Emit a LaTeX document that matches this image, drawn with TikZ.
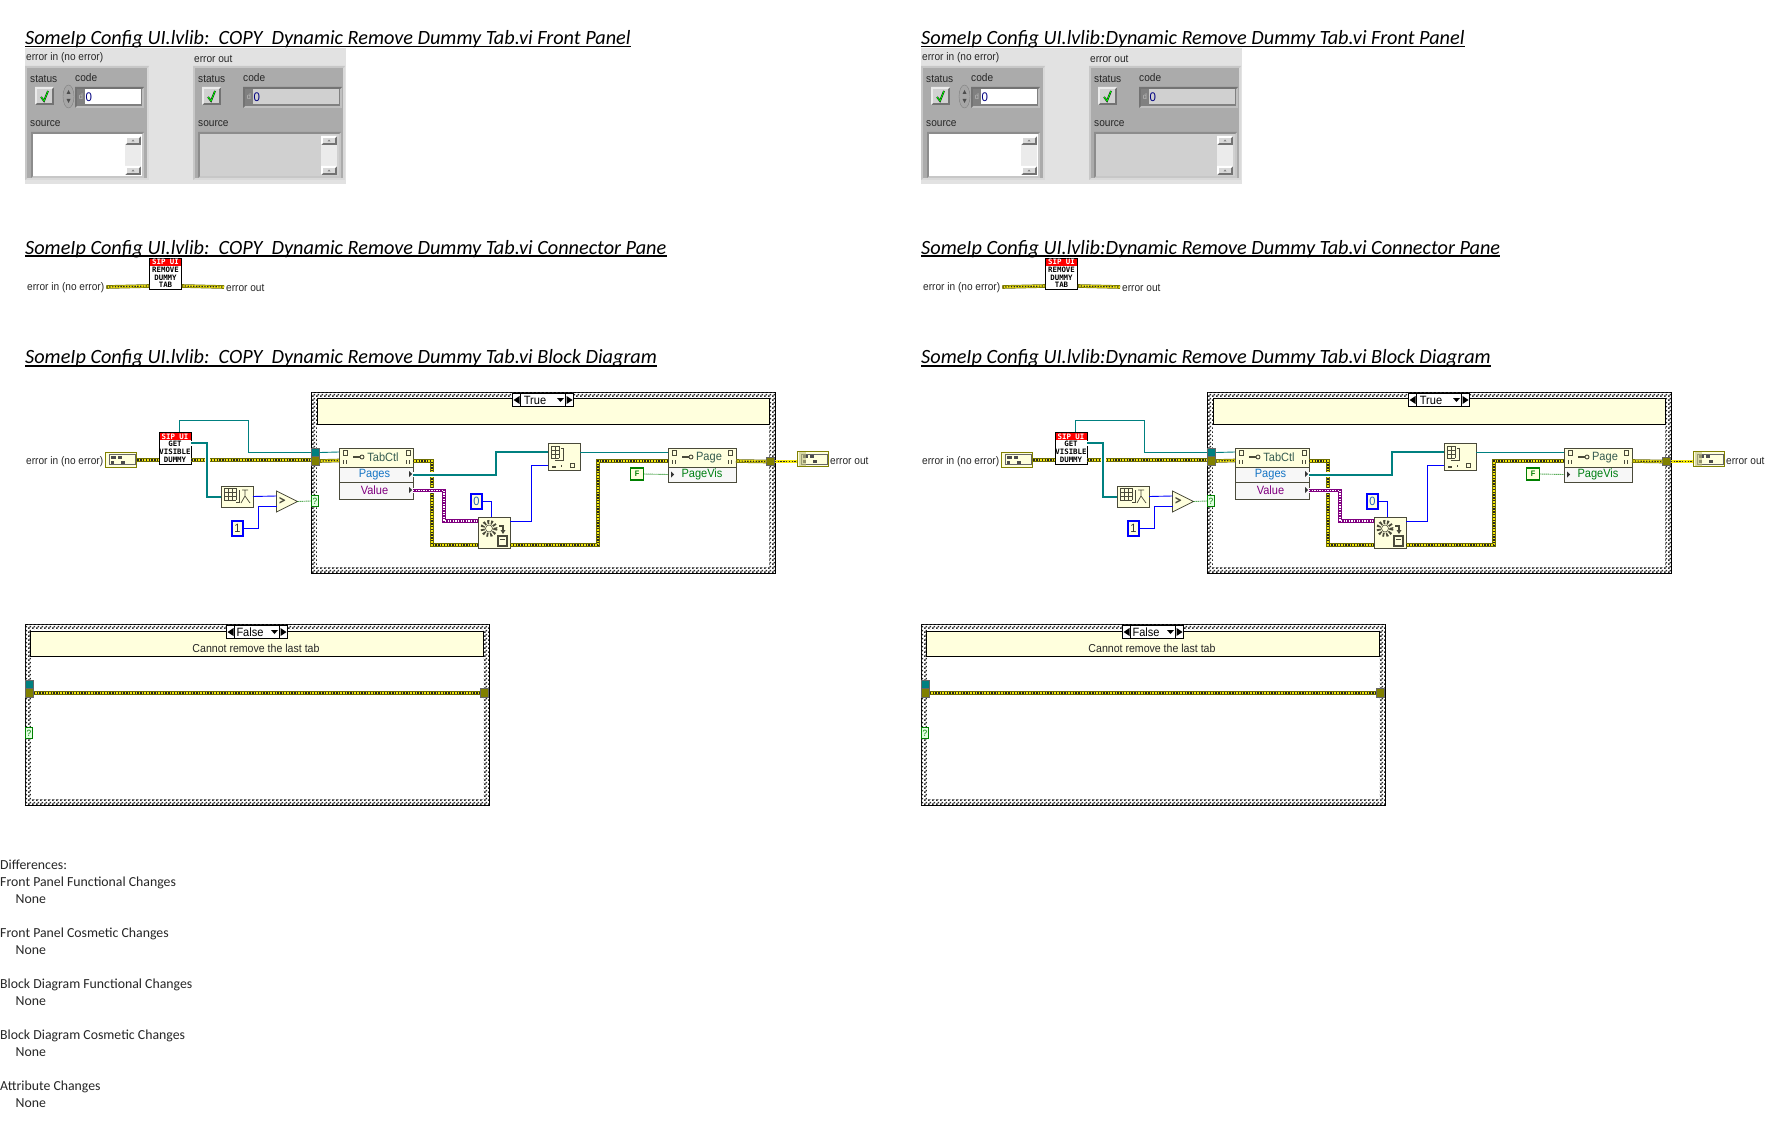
\documentclass[tikz,border=0pt]{standalone}
\usepackage{fontspec}
\usetikzlibrary{positioning,patterns,shapes.geometric}
\setmainfont{Carlito}
\newfontfamily\lvfont[FakeStretch=0.92]{Liberation Sans}
\newfontfamily\lvmono{DejaVu Sans Mono}
\definecolor{lvteal}{HTML}{008080}
\definecolor{lvblue}{HTML}{0000FF}
\definecolor{lvpurple}{HTML}{800080}
\definecolor{lvgreen}{HTML}{008000}
\definecolor{lvolive}{HTML}{808000}
\definecolor{lvedge}{HTML}{4A4A3A}
\definecolor{lvpale}{HTML}{FFFFDD}
\definecolor{lvpanel}{HTML}{E2E2E2}
\definecolor{lvcluster}{HTML}{ABABAB}
\definecolor{lvfield}{HTML}{D0D0D0}
\pgfdeclarepatternformonly{finechecks}{\pgfqpoint{0pt}{0pt}}{\pgfqpoint{4pt}{4pt}}{\pgfqpoint{4pt}{4pt}}
{
    \pgfpathrectangle{\pgfqpoint{0pt}{0pt}}{\pgfqpoint{2pt}{2pt}}
    \pgfpathrectangle{\pgfqpoint{2pt}{2pt}}{\pgfqpoint{2pt}{2pt}}
    \pgfusepath{fill}
}
\tikzset{
    lvlabel/.style={font=\lvfont\fontsize{11}{12}\selectfont, inner sep=0pt, text=black!85},
    vititle/.style={font=\itshape\fontsize{20.25}{24}\selectfont, inner sep=0pt, anchor=base west},
    difftext/.style={font=\fontsize{13.8}{16}\selectfont, inner sep=0pt, anchor=west, text=black!85},
    sipicon/.style={draw=black, fill=white, line width=0.8pt, minimum width=32pt, minimum height=#1, inner sep=0pt, align=center,
        font=\lvmono\bfseries\fontsize{7.4}{7.6}\selectfont,
        path picture={\fill[red] (path picture bounding box.north west) rectangle ([yshift=-8pt]path picture bounding box.north east);}},
    lvnode/.style={draw=lvedge, fill=lvpale, line width=0.8pt, inner sep=0pt, outer sep=0pt},
    proprow/.style={draw=lvedge, fill=black!3, line width=0.8pt, inner sep=0pt, outer sep=0pt,
        font=\lvfont\fontsize{12}{13}\selectfont, minimum height=#1},
    constbox/.style={draw=#1, fill=lvpale, line width=1.9pt, inner sep=0pt, outer sep=0pt, text=black!80, font=\lvfont\fontsize{12}{13}\selectfont},
    tunnel/.style={draw=black!60, fill=#1, line width=0.6pt, inner sep=0pt, outer sep=0pt, minimum width=8.5pt, minimum height=8.5pt},
    seltunnel/.style={draw=lvgreen, fill=green!12, line width=0.7pt, inner sep=0pt, outer sep=0pt, minimum width=7.5pt, minimum height=11.5pt,
        font=\lvfont\fontsize{9}{10}\selectfont, text=lvgreen},
    casewall/.style={draw=black, line width=0.9pt, fill=white, postaction={pattern=finechecks, pattern color=black!85}, inner sep=0pt},
    caseinside/.style={fill=white, inner sep=0pt},
    casehead/.style={draw=black, fill=lvpale, line width=0.8pt, inner sep=0pt, lvlabel},
    selbox/.style={draw=black, fill=white, line width=0.7pt, inner sep=0pt, outer sep=0pt, minimum height=13.5pt,
        font=\lvfont\fontsize{12}{13}\selectfont},
    errterm/.style={draw=lvolive, fill=lvpale, line width=1.8pt, inner sep=0pt, minimum width=31pt, minimum height=15pt},
    errwire/.style={draw=lvolive!85!black, line width=3.6pt, postaction={draw=yellow!95!black, line width=2.2pt}, postaction={draw=black!85, line width=1.2pt, dash pattern=on 1.4pt off 1.4pt}},
    pinkwire/.style={preaction={draw=white, line width=5pt}, draw=lvpurple, line width=3.4pt, postaction={draw=white, line width=1.3pt, dash pattern=on 1.3pt off 1.3pt}},
    thickteal/.style={preaction={draw=white, line width=5pt}, draw=lvteal, line width=2pt},
    thinteal/.style={draw=lvteal, line width=0.9pt},
    bluewire/.style={draw=lvblue, line width=0.9pt},
    boolwire/.style={draw=lvgreen, line width=0.9pt, dash pattern=on 1pt off 1pt}
}
% x1 y1 x2 y2 top-left bottom-right
\newcommand{\bevelrect}[7]{
    \fill[#6] (#1,#2) rectangle (#3,#4);
    \fill[#5] (#1,#2) -- (#3,#2) -- (#3-2,#2+2) -- (#1+2,#2+2) -- (#1+2,#4-2) -- (#1,#4) -- cycle;
    \fill[#7] (#1+2,#2+2) rectangle (#3-2,#4-2);
}
\newcommand{\okbutton}[2]{
    \bevelrect{#1}{#2}{#1+19}{#2+18}{black!8}{black!55}{black!18}
    \draw[black, line width=1.7pt] (#1+6,#2+10) -- (#1+9,#2+14) -- (#1+13,#2+4);
    \draw[green, line width=0.9pt] (#1+6,#2+10) -- (#1+9,#2+14) -- (#1+13,#2+4);
}
\newcommand{\scrollbar}[2]{
    \fill[black!8] (#1,#2) rectangle (#1+16,#2+39);
    \foreach \by in {0,30}
    {
        \bevelrect{#1}{#2+\by}{#1+16}{#2+\by+9}{white}{black!55}{black!15}
        \fill[black!50] (#1+6.5,#2+\by+5.5) -- (#1+9.5,#2+\by+5.5) -- (#1+8,#2+\by+3.5) -- cycle;
    }
}
\newcommand{\gridglyph}[4]{
    \foreach \gx in {0,...,#3}
    {
        \draw[lvedge, line width=0.7pt] (#1+\gx*4,#2) -- (#1+\gx*4,#2+#4*4);
    }
    \foreach \gy in {0,...,#4}
    {
        \draw[lvedge, line width=0.7pt] (#1,#2+\gy*4) -- (#1+#3*4,#2+\gy*4);
    }
}
\newcommand{\tagglyph}[2]{
    \draw[lvedge, line width=0.7pt] (#1-2,#2-3) rectangle (#1+2,#2+2);
    \fill[lvedge] (#1-2.5,#2+7) rectangle (#1-1.3,#2+11);
    \fill[lvedge] (#1+0.5,#2+7) rectangle (#1+1.7,#2+11);
}
\newcommand{\keyglyph}[2]{
    \draw[lvedge, line width=1.8pt] (#1,#2) -- (#1+7,#2);
    \draw[lvedge, line width=0.9pt] (#1+9,#2) circle (2);
}
\newcommand{\errglyph}[3]{
    \fill[black!70] (#1+5,#2+3) rectangle (#1+10,#2+6);
    \fill[black!70] (#1+12,#2+3) rectangle (#1+16,#2+6);
    \fill[black!70] (#1+5,#2+8) rectangle (#1+8,#2+11);
    \fill[black!70] (#1+15,#2+8) rectangle (#1+19,#2+11);
    \draw[black!60] (#1+3.5,#2+2) rectangle (#1+#3,#2+12);
}
\begin{document}
\begin{tikzpicture}[x=1pt,y=-1pt]
    \useasboundingbox (0,0) rectangle (1792,1145);
    \fill[white] (0,0) rectangle (1792,1145);
    \foreach \cx/\viname in {0/{SomeIp Config UI.lvlib:\ \ COPY\ \ Dynamic Remove Dummy Tab.vi}, 896/{SomeIp Config UI.lvlib:Dynamic Remove Dummy Tab.vi}}
    {
        \begin{scope}[shift={(\cx,0)}, name prefix=col\cx-]
            \foreach \hid/\htext/\hy in {fp/Front Panel/44.5, cp/Connector Pane/254, bd/Block Diagram/363.5}
            {
                \node [vititle] (head\hid) at (25,\hy) {\viname\ \htext};
                \draw [line width=1.6pt] ([yshift=-2.2pt]head\hid.base west) -- ([yshift=-2.2pt]head\hid.base east);
            }
            % front panel
            \fill[lvpanel] (25,48) rectangle (346,184);
            \node [lvlabel, anchor=west] (inlabel) at (26,58) {error in (no error)};
            \node [lvlabel, anchor=west] (outlabel) at (194,58.5) {error out};
            \bevelrect{25}{66}{149}{180}{black!22}{black!15}{lvcluster}
            \bevelrect{193}{66}{345}{180}{black!22}{black!15}{lvcluster}
            \foreach \px/\pfx in {30/a,198/b}
            {
                \node [lvlabel, anchor=west] (status\pfx) at (\px,79) {status};
                \node [lvlabel, anchor=west] (source\pfx) at (\px,123.5) {source};
            }
            \node [lvlabel, anchor=west] (codea) at (75,78) {code};
            \node [lvlabel, anchor=west] (codeb) at (243,78) {code};
            \okbutton{35}{87}
            \okbutton{202}{87}
            \draw[black!50, fill=black!35] (68.5,96.5) ellipse (5.5 and 11.5);
            \fill[black!70] (66.5,94) -- (70.5,94) -- (68.5,90) -- cycle;
            \fill[black!70] (66.5,99) -- (70.5,99) -- (68.5,103) -- cycle;
            \bevelrect{75}{87}{144}{108}{black!55}{black!25}{black!50}
            \fill[white] (85,89) rectangle (141,104);
            \node [lvlabel, text=black!25, font=\lvfont\fontsize{8}{9}\selectfont] (deca) at (81,97) {d};
            \node [lvlabel, anchor=west, text=blue!50!black, font=\lvfont\fontsize{12.5}{13}\selectfont] (vala) at (85.5,97) {0};
            \bevelrect{243}{87}{342}{108}{black!55}{black!25}{black!50}
            \fill[lvfield] (253,89) rectangle (339,104);
            \node [lvlabel, text=black!25, font=\lvfont\fontsize{8}{9}\selectfont] (decb) at (249,97) {d};
            \node [lvlabel, anchor=west, text=blue!50!black, font=\lvfont\fontsize{12.5}{13}\selectfont] (valb) at (253.5,97) {0};
            \bevelrect{31}{132}{144}{178}{black!45}{black!22}{white}
            \bevelrect{198}{132}{341}{178}{black!45}{black!22}{lvfield}
            \scrollbar{125}{136}
            \scrollbar{321}{136}
            % connector pane
            \node [lvlabel, anchor=west] (paneinlabel) at (27,288) {error in (no error)};
            \node [sipicon=31pt] (paneicon) at (165.5,273.5) {\textcolor{white}{SIP UI}\\REMOVE\\DUMMY\\TAB};
            \node [lvlabel, anchor=west] (paneoutlabel) at (226,288) {error out};
            \draw [errwire] ([xshift=2pt,yshift=1pt]paneinlabel.east) -- ([yshift=-12.5pt]paneicon.west);
            \draw [errwire] ([yshift=-12.5pt]paneicon.east) -- ([xshift=-2pt,yshift=1pt]paneoutlabel.west);
            % block diagram, true case
            \node [casewall, minimum width=464pt, minimum height=181pt] (truecase) at (543,482.5) {};
            \node [caseinside, minimum width=452pt, minimum height=169pt] (trueinner) at (543,482.5) {};
            \node [casehead, minimum width=452pt, minimum height=26pt] (truehead) at (543,411) {};
            \node [selbox, minimum width=45pt] (truesel) at (543,400) {\hspace*{-16pt}True};
            \node [selbox, minimum width=8pt, left=0pt of truesel] (trueprev) {};
            \node [selbox, minimum width=8pt, right=0pt of truesel] (truenext) {};
            \fill (trueprev.center) ++(-3,0) -- ++(6,-4) -- ++(0,8) -- cycle;
            \fill (truenext.center) ++(3,0) -- ++(-6,-4) -- ++(0,8) -- cycle;
            \fill (truesel.center) ++(14,-2) -- ++(7,0) -- ++(-3.5,4) -- cycle;
            \node [lvlabel, anchor=west] (blockinlabel) at (26,461.5) {error in (no error)};
            \node [errterm] (errin) at (121,460) {};
            \node [sipicon=32pt] (getdummy) at (175,448) {\textcolor{white}{SIP UI}\\GET\\VISIBLE\\DUMMY};
            \node [tunnel=lvteal] (tealtun) at (315.5,452.5) {};
            \node [tunnel=lvolive] (olivetun) at (315.5,461) {};
            \node [seltunnel] (seltun) at (315,501) {?};
            \node [lvnode, minimum width=32pt, minimum height=21pt] (pagesize) at (237,496.5) {};
            \node [lvnode, isosceles triangle, isosceles triangle apex angle=65, isosceles triangle stretches, minimum width=21pt, minimum height=21pt, text=lvedge, font=\bfseries\fontsize{15}{15}\selectfont] (greater) at (282,501.5) {>};
            \node [constbox=lvblue, minimum width=11pt, minimum height=15pt] (oneconst) at (237.5,528.5) {1};
            \node [proprow=19pt, fill=lvpale, minimum width=74pt, text=lvedge!70!teal] (tabhead) at (376,457.5) {\hspace*{14pt}TabCtl};
            \node [proprow=15pt, minimum width=74pt, text=cyan!55!blue, below=0pt of tabhead] (tabpages) {\hspace*{-3pt}Pages};
            \node [proprow=17pt, minimum width=74pt, text=lvpurple, below=0pt of tabpages] (tabvalue) {\hspace*{-3pt}Value};
            \node [constbox=lvblue, minimum width=11pt, minimum height=15pt, text=cyan!40!blue] (zeroconst) at (476.5,501.5) {0};
            \node [lvnode, minimum width=32pt, minimum height=31pt] (gearnode) at (494,532.5) {};
            \node [lvnode, minimum width=32pt, minimum height=27pt] (replnode) at (564,456.5) {};
            \node [proprow=19pt, fill=lvpale, minimum width=68pt, text=lvedge!70!teal] (pagehead) at (702,457.5) {\hspace*{14pt}Page};
            \node [proprow=15pt, minimum width=68pt, text=lvgreen!85!teal, below=0pt of pagehead] (pagevis) {PageVis};
            \node [constbox=lvgreen, minimum width=13pt, minimum height=12pt, font=\lvfont\bfseries\fontsize{8}{9}\selectfont, text=lvgreen] (falseconst) at (637,474) {F};
            \node [tunnel=lvolive] (outtun) at (770.5,461.5) {};
            \node [errterm] (errout) at (813,459) {};
            \node [lvlabel, anchor=west] (blockoutlabel) at (830,461) {error out};
            % wires
            \draw [errwire] (errin.east) -- ([yshift=-12pt]getdummy.west);
            \draw [errwire] ([yshift=-12pt]getdummy.east) -- (olivetun.west |- errin.east);
            \draw [thinteal] ([xshift=4pt]getdummy.north) -- ++(0,-11) -- ++(69,0) |- (tealtun.west);
            \draw [thickteal] ([yshift=5pt]getdummy.east) -- ++(16,0) |- (pagesize.west);
            \draw [bluewire] (pagesize.east) -- ([yshift=5.5pt]greater.west);
            \draw [bluewire] (oneconst.east) -- ++(15.5,0) |- ([yshift=-4.5pt]greater.west);
            \draw [boolwire] (greater.east) -- (seltun.west);
            \draw [thinteal] (tealtun.east) -- ([yshift=5.5pt]tabhead.west);
            \draw [errwire] (olivetun.east) -- ([yshift=-3pt]tabhead.west);
            \draw [errwire] ([yshift=-3.5pt]tabhead.east) -- ++(19,0) |- ([yshift=-12.5pt]gearnode.west);
            \draw [errwire] ([yshift=-12.5pt]gearnode.east) -- ++(88,0) |- ([yshift=-3.5pt]pagehead.west);
            \draw [thickteal] (tabpages.east) -- ++(83,0) |- ([yshift=4.5pt]replnode.west);
            \draw [pinkwire] (tabvalue.east) -- ++(31,0) |- ([yshift=11.5pt]gearnode.west);
            \draw [bluewire] (zeroconst.east) -| ([xshift=-3pt]gearnode.north);
            \draw [bluewire] ([yshift=11.5pt]gearnode.east) -- ++(21,0) |- ([yshift=-8.5pt]replnode.west);
            \draw [thinteal] ([yshift=4.5pt]replnode.east) -- ([yshift=5.5pt]pagehead.west);
            \draw [boolwire] (falseconst.east) -- (pagevis.west);
            \draw [errwire] ([yshift=-3.5pt]pagehead.east) -- (outtun.west);
            \draw [errwire] (outtun.east) -- ([yshift=-2.5pt]errout.west);
            % glyphs
            \errglyph{105.5}{452.5}{30}
            \errglyph{797.5}{452}{30}
            \fill[lvolive!50, opacity=0.6] (799,452) rectangle (806,466);
            \gridglyph{224}{488}{3}{3}
            \draw[lvedge, line width=0.7pt] (236,502) -- (239,502) -- (239,490);
            \draw[lvedge, line width=0.7pt] (242,490) -- (248,490) (245,490) -- (245,496) -- (250,503) (245,496) -- (241,503);
            \gridglyph{551}{446}{2}{3}
            \draw[lvedge, line width=0.7pt] (561,448) -- (563,448) -- (563,460) -- (555,460);
            \fill[lvedge] (552,466) rectangle (556,468);
            \draw[lvedge, line width=0.8pt] (570,463) rectangle (574,467);
            \fill[lvedge] (561,465) rectangle (562,467);
            \draw[lvedge, line width=4pt, dash pattern=on 1.8pt off 1.8pt] (489,528.5) circle (6.5);
            \draw[lvedge, fill=lvpale, line width=0.6pt] (489,528.5) circle (3.5);
            \draw[lvedge, line width=1.1pt] (499,526) -- (503,526) -- (503,531);
            \fill[lvedge] (500.5,530) -- (505.5,530) -- (503,534) -- cycle;
            \draw[lvedge, line width=1.5pt] (498,536) rectangle (507,546);
            \fill[lvedge] (500,539) rectangle (505,540);
            \foreach \tx/\ty in {345/453, 408/453, 674/453, 730/453}
            {
                \tagglyph{\tx}{\ty}
            }
            \keyglyph{353}{457}
            \keyglyph{682}{457}
            \foreach \ax/\ay in {409/474, 409/490}
            {
                \fill[black!80] (\ax,\ay-3) -- (\ax+3,\ay) -- (\ax,\ay+3) -- cycle;
            }
            \fill[black!80] (671,471.5) -- (674,474.5) -- (671,477.5) -- cycle;
            % false case
            \node [casewall, minimum width=464pt, minimum height=181pt] (falsecase) at (257,714.5) {};
            \node [caseinside, minimum width=452pt, minimum height=169pt] (falseinner) at (257,714.5) {};
            \node [casehead, minimum width=453pt, minimum height=25pt] (falsehead) at (257,643.5) {};
            \node [lvlabel, font=\lvfont\fontsize{11.5}{12}\selectfont] (falsecomment) at (256,648.5) {Cannot remove the last tab};
            \node [selbox, minimum width=45pt] (falsesel) at (257,632) {\hspace*{-14pt}False};
            \node [selbox, minimum width=8pt, left=0pt of falsesel] (falseprev) {};
            \node [selbox, minimum width=8pt, right=0pt of falsesel] (falsenext) {};
            \fill (falseprev.center) ++(-3,0) -- ++(6,-4) -- ++(0,8) -- cycle;
            \fill (falsenext.center) ++(3,0) -- ++(-6,-4) -- ++(0,8) -- cycle;
            \fill (falsesel.center) ++(14,-2) -- ++(7,0) -- ++(-3.5,4) -- cycle;
            \node [tunnel=lvteal] (fteal) at (29.5,684.5) {};
            \node [tunnel=lvolive] (folive) at (29.5,693) {};
            \node [tunnel=lvolive] (fright) at (484.5,693) {};
            \node [seltunnel] (fsel) at (29,733) {?};
            \draw [errwire] (folive.east) -- (fright.west);
        \end{scope}
    }
    % list of differences
    \foreach \dtxt/\dx/\dy/\did in {Differences:/0/865/a, Front Panel Functional Changes/0/883/b, None/15.5/899/c, Front Panel Cosmetic Changes/0/934/d, None/15.5/950/e, Block Diagram Functional Changes/0/985/f, None/15.5/1001/g, Block Diagram Cosmetic Changes/0/1036/h, None/15.5/1052/i, Attribute Changes/0/1087/j, None/15.5/1103/k}
    {
        \node [difftext] (diff\did) at (\dx,\dy) {\dtxt};
    }
\end{tikzpicture}
\end{document}
